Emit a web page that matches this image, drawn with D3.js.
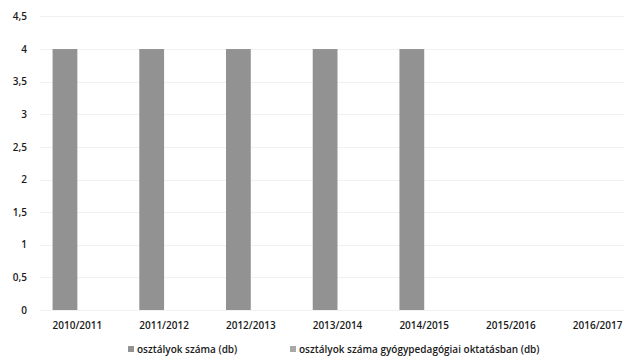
<!DOCTYPE html>
<html>
<head>
<meta charset="utf-8">
<script src="https://cdn.jsdelivr.net/npm/d3@7"></script>
<style>
  html, body { margin: 0; padding: 0; background: #fff; }
  svg { display: block; }
</style>
</head>
<body>
<svg id="chart" width="624" height="360"></svg>
<script>
const categories = ["2010/2011", "2011/2012", "2012/2013", "2013/2014", "2014/2015", "2015/2016", "2016/2017"];
const seriesNames = ["osztályok száma (db)", "osztályok száma gyógypedagógiai oktatásban (db)"];
const classCount = [4, 4, 4, 4, 4, null, null];
const specialEdCount = [0, 0, 0, 0, 0, null, null];
const yTicks = [0, 0.5, 1, 1.5, 2, 2.5, 3, 3.5, 4, 4.5];
const seriesColors = ["#929292", "#a8a8a8"];

const svg = d3.select("#chart");
const font = "'Open Sans', 'Noto Sans', sans-serif";

const plotTop = 16.4, plotBottom = 310, plotLeft = 34, plotRight = 641;

const y = d3.scaleLinear().domain([0, 4.5]).range([plotBottom, plotTop]);
const x = d3.scaleBand().domain(categories).range([plotLeft, plotRight]).padding(0);
const barW = x.bandwidth() / 3.5;
const xs = d3.scaleBand().domain(seriesNames)
  .range([0.75 * barW, x.bandwidth() - 0.75 * barW]).padding(0);

const huLocale = d3.formatLocale({decimal: ",", thousands: " ", grouping: [3], currency: ["", ""]});
const fmt = huLocale.format("~g");

// gridlines
svg.append("g")
  .selectAll("line")
  .data(yTicks)
  .join("line")
  .attr("x1", 40).attr("x2", 624)
  .attr("y1", d => Math.round(y(d)) + 0.5)
  .attr("y2", d => Math.round(y(d)) + 0.5)
  .attr("stroke", "#f1f1f1")
  .attr("stroke-width", 1);

// y axis labels
const yAxis = d3.axisLeft(y).tickValues(yTicks).tickFormat(fmt).tickSize(0).tickPadding(0);
const gy = svg.append("g").attr("transform", "translate(27,0)").call(yAxis);
gy.select(".domain").remove();
gy.selectAll("text").attr("font-family", font).attr("font-size", 10).attr("font-weight", 600).attr("fill", "#1a1a1a");

// x axis labels
const xAxis = d3.axisBottom(x).tickSize(0).tickPadding(0);
const gx = svg.append("g").attr("transform", "translate(0,322)").call(xAxis);
gx.select(".domain").remove();
gx.selectAll("text").attr("font-family", font).attr("font-size", 10).attr("font-weight", 600).attr("fill", "#1a1a1a");

// bars
const seriesData = [classCount, specialEdCount];
seriesData.forEach((vals, si) => {
  svg.append("g")
    .selectAll("rect")
    .data(categories.map((c, i) => ({c, v: vals[i]})).filter(d => d.v != null && d.v > 0))
    .join("rect")
    .attr("x", d => x(d.c) + xs(seriesNames[si]))
    .attr("width", xs.bandwidth())
    .attr("y", d => y(d.v))
    .attr("height", d => y(0) - y(d.v))
    .attr("fill", seriesColors[si]);
});

// legend
const legendItems = [{name: seriesNames[0], x: 128}, {name: seriesNames[1], x: 290}];
const lg = svg.append("g").attr("transform", "translate(0,350)");
legendItems.forEach((it, i) => {
  lg.append("rect").attr("x", it.x).attr("y", -4).attr("width", 6).attr("height", 6).attr("fill", seriesColors[i]);
  lg.append("text").attr("x", it.x + 9).attr("y", 0).attr("dy", "0.32em")
    .attr("font-family", font).attr("font-size", 10).attr("font-weight", 600).attr("fill", "#1a1a1a").text(it.name);
});
</script>
</body>
</html>
